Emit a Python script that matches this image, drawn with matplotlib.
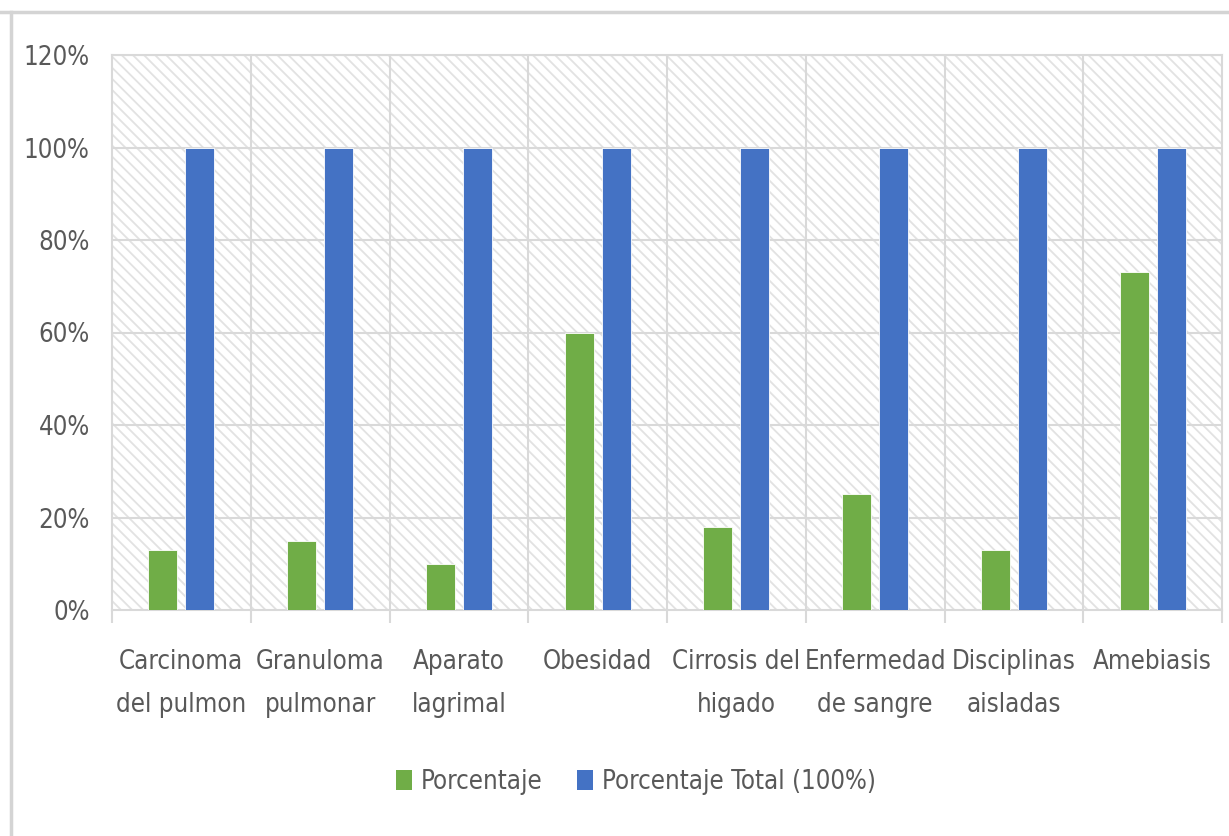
import matplotlib
matplotlib.use("Agg")
import matplotlib.pyplot as plt
from matplotlib import font_manager
from matplotlib.patches import Patch, Rectangle
from matplotlib.lines import Line2D
from matplotlib.ticker import FuncFormatter, FixedLocator
import numpy as np

categories = [
    "Carcinoma\ndel pulmon",
    "Granuloma\npulmonar",
    "Aparato\nlagrimal",
    "Obesidad",
    "Cirrosis del\nhigado",
    "Enfermedad\nde sangre",
    "Disciplinas\naisladas",
    "Amebiasis",
]
porcentaje = [13, 15, 10, 60, 18, 25, 13, 73]
porcentaje_total = [100, 100, 100, 100, 100, 100, 100, 100]
y_ticks = [0, 20, 40, 60, 80, 100, 120]

GREEN = "#70ad47"
BLUE = "#4472c4"
GRID = "#d9d9d9"
TEXT = "#595959"

# prefer a narrow sans face when one is available
narrow = None
for f in font_manager.fontManager.ttflist:
    if f.stretch in ("condensed", "semi-condensed", "extra-condensed") and \
            f.style == "normal" and f.weight in (400, "normal", "regular"):
        narrow = f
        break

if narrow is not None:
    plt.rcParams["font.family"] = [narrow.name, "DejaVu Sans"]
    plt.rcParams["font.stretch"] = narrow.stretch
    FS = 18.5
else:
    plt.rcParams["font.family"] = ["Liberation Sans", "DejaVu Sans"]
    FS = 16
plt.rcParams["hatch.color"] = "#e2e2e2"
plt.rcParams["hatch.linewidth"] = 1.3

fig = plt.figure(figsize=(12.29, 8.36), dpi=100)
ax = fig.add_axes([112 / 1229, 1 - 610 / 836, 1110 / 1229, 555 / 836])

# hatched plot-area background
ax.add_patch(Rectangle((0, 0), 1, 1, transform=ax.transAxes, facecolor="white",
                       edgecolor="#e2e2e2", hatch="\\\\\\", linewidth=0, zorder=0))

x = np.arange(len(categories))
w = 0.21
off = 0.133
ax.bar(x - off, porcentaje, w, color=GREEN, edgecolor="white", linewidth=0.6, zorder=3,
       label="Porcentaje")
ax.bar(x + off, porcentaje_total, w, color=BLUE, edgecolor="white", linewidth=0.6, zorder=3,
       label="Porcentaje Total (100%)")

ax.set_xlim(-0.5, len(categories) - 0.5)
ax.set_ylim(0, 120)
ax.set_yticks(y_ticks)
ax.yaxis.set_major_formatter(FuncFormatter(lambda v, p: f"{v:.0f}%"))

ax.set_xticks(x)
ax.set_xticklabels(categories, linespacing=1.85)
ax.xaxis.set_minor_locator(FixedLocator(np.arange(-0.5, len(categories), 1.0)))

ax.tick_params(axis="x", which="major", length=0, pad=28, labelsize=FS, labelcolor=TEXT)
ax.tick_params(axis="x", which="minor", length=9, width=1.5, color=GRID, direction="out")
ax.tick_params(axis="y", length=0, pad=16, labelsize=FS, labelcolor=TEXT)

ax.grid(False)
for yv in y_ticks[1:]:
    ax.axhline(yv, color=GRID, linewidth=1.5, zorder=1)
for xv in np.arange(0.5, len(categories) - 0.5, 1.0):
    ax.axvline(xv, color=GRID, linewidth=1.5, zorder=1)

for s in ax.spines.values():
    s.set_color(GRID)
    s.set_linewidth(1.5)

handles = [Patch(facecolor=GREEN, label="Porcentaje"),
           Patch(facecolor=BLUE, label="Porcentaje Total (100%)")]
fig.legend(handles=handles, loc="center", bbox_to_anchor=(636 / 1229, 1 - 782 / 836),
           ncol=2, frameon=False, fontsize=FS, labelcolor=TEXT,
           handlelength=0.6, handleheight=0.85, handletextpad=0.35, columnspacing=1.35)

# outer chart frame
fig.add_artist(Line2D([0, 1], [1 - 12 / 836] * 2, transform=fig.transFigure,
                      color="#d4d4d4", linewidth=2.5))
fig.add_artist(Line2D([10.5 / 1229] * 2, [0, 1 - 12 / 836], transform=fig.transFigure,
                      color="#d4d4d4", linewidth=2.5))

fig.savefig("out.png", dpi=100, facecolor="white")
